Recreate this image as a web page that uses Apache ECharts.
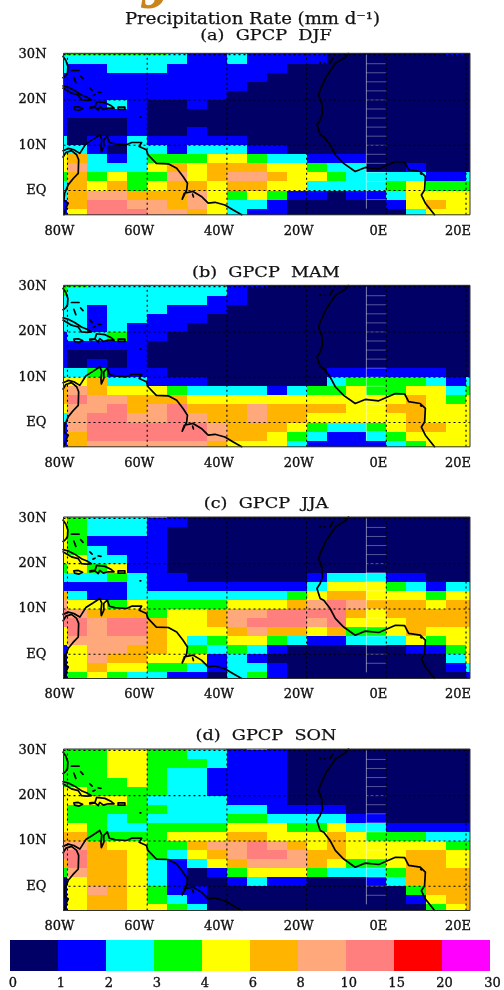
<!DOCTYPE html>
<html><head><meta charset="utf-8">
<style>html,body{margin:0;padding:0;background:#fff}#c{width:504px;height:990px}</style>
<script src="https://cdn.jsdelivr.net/npm/echarts@6/dist/echarts.min.js"></script>
</head><body><div id="c"></div>
<script>
// Each digit is a colour band index (0 = 0-1 mm/d ... 9 = 20-30 mm/d).
// Rows run north to south, columns west to east; short rows continue with band 0.
const gpcpDJF = ["3333332112111100000010","2222222112111100000000","211222111111","11111111111","1111111111","111111111","11121001","11111","10001","10001001","2011211111","221022122211","4521233344322111","4622245455544322001","3534336456654432222112","2545345545544222234333","2566555643431101124444","1577665642210000014544","1477766542110000002444"];
const gpcpMAM = ["33222222211","3222222221","2222222211","221222111","22122111","2212111","122311","11111","10001","10101","22311100000000111111","4452211100000023333212","5654443222212334334423","5766555444444444445434","4667567555655554455444","2677667655655444445444","1677777765554322345544","1577777765543211234444","1566666654442111123444"];
const gpcpJJA = ["43322211","4322211","432221","431111","432111","442211","343411","2223211000000122211","1111211111111244432122","5211222222223455444344","6443433334445676555455","7655534456677775455555","7767754456777674445555","4767754445655453345444","4666654234432112224344","1466554323210000001134","0465544412100000000024","0454433212210000000012","0343221102310000000001"];
const gpcpSON = ["2334433221211","333443322111","333443332111","333443221111","333343221111","443333221111","444432222111","433333222221111","43323222233222211","4432233334443342211111","5533334445544454333222","6654433566765454444433","7755432456776554445544","5755421245666543345544","3655421013444322235555","0455421001211000125555","0465431100000000003555","0455432100000000001455","0455443200000000000345"];

const lonEdges = [-81,-80,-75,-70,-65,-60,-55,-50,-45,-40,-35,-30,-25,-20,-15,-10,-5,0,5,10,15,20,21];
const latEdges = [30.3,30,28,26,24,22,20,18,16,14,12,10,8,6,4,2,0,-2,-4,-5.36];
const lonTicks = [-80,-60,-40,-20,0,20];
const latTicks = [30,20,10,0];
const bandLabels = ['0','1','2','3','4','6','8','10','15','20','30'];
const bandColors = ['#000066','#0000ff','#00ffff','#00ff00','#ffff00','#ffb400','#ffa87c','#ff7f7f','#ff0000','#ff00ff'];

const panelNames = ['(a)  GPCP  DJF','(b)  GPCP  MAM','(c)  GPCP  JJA','(d)  GPCP  SON'];
const panelTops = [53.3,285.3,517,749];

const coastlines = [
 [[-81.1,29.6],[-80.4,28.7],[-79.9,27.4],[-80,26],[-80.5,25.3],[-81.1,24.9]],
 [[-81.1,23.1],[-79.8,22.8],[-78.2,22.1],[-76.5,21.1],[-75.1,20.6],[-74,20],[-75.1,19.9],[-76.5,20],[-77.3,21.1],[-79,21.5],[-80.3,22.2],[-81.1,22.6]],
 [[-79,26.5],[-77.1,26.5]],[[-78.4,25],[-77.9,23.8]],[[-76.7,25.3],[-76.1,24.7]],[[-74.4,22.6],[-73.8,22.1]],[[-72.3,21.7],[-71.6,21.6]],[[-73.6,21],[-73.1,21.2]],
 [[-78.4,18.4],[-77.3,18.5],[-76.2,18.1],[-77.1,17.7],[-78.2,17.9],[-78.4,18.4]],
 [[-74.4,18.4],[-73.1,18.5],[-72.7,19.6],[-70.6,19.4],[-69,18.7],[-68.3,18.2],[-69.8,18.2],[-71,17.9],[-71.9,18.5],[-72.3,17.8],[-73.1,18.4],[-74.4,18.2],[-74.4,18.4]],
 [[-67.3,18.4],[-65.6,18.4],[-65.6,17.9],[-67.3,17.9],[-67.3,18.4]],
 [[-61.8,16.2],[-61.6,16.2]],
 [[-81.1,8.8],[-79.8,9.3],[-78.4,9],[-76.9,8.2],[-75.4,10.3],[-73.6,11.3],[-71.9,12.3],[-71.4,11.3],[-71.6,9.7],[-71.5,8.5],[-70.9,9.7],[-70.9,11.2],[-70,12],[-69.5,10.6],[-68.1,10.3],[-65.2,10.1],[-63.9,10.6],[-61.4,10.6],[-62,9.7],[-60.2,9],[-59.8,7.9],[-57.7,6],[-54.7,5.9],[-52.6,4.9],[-51,3.1],[-49.9,1.6],[-50.1,0.1],[-51.2,-1.9],[-50.7,-0.6],[-48.5,-0.2],[-46.4,-1.3],[-44.7,-2.8],[-43,-2.6],[-40.5,-3.2],[-38.4,-4.3],[-36.3,-5.36]],
 [[-81.1,7.4],[-80.4,8.4],[-79,8.8],[-77.7,7.9],[-77.2,6.8],[-77.3,3.8],[-78.6,2.6],[-79.8,1.3],[-80.7,-0.6],[-80.9,-2.1],[-79.8,-2.8],[-80.4,-3.9],[-80.9,-5.36]],
 [[-48.6,-0.8],[-48.4,-1.4]],
 [[-9.5,30.3],[-10.3,29.4],[-12.8,28.1],[-13.6,27],[-15.1,25.1],[-16.6,22.2],[-17,21.1],[-16.2,19.3],[-16,17.1],[-16.6,15.6],[-17.4,14.5],[-16.6,12.3],[-15.7,11.9],[-14.1,10.1],[-12.8,7.9],[-10.7,6],[-7.8,4.2],[-5.3,5.1],[-1.9,4.8],[1,5.9],[2.3,6.4],[4.6,6.3],[5.6,4.6],[8.5,4.2],[9.8,3.1],[9.6,0.1],[8.8,-1],[9.8,-2.8],[12.1,-5.36]],
 [[-16.7,28.2],[-16.5,28.2]],[[-15.6,28.1],[-15.4,28.1]],[[-14.2,28.1],[-13.4,29.2]],[[8.6,3.8],[8.8,3.6]]
];
const artefactLon = -5;
const artefactLats = [28,26,24,22,20,18,16,14,12,10,8,6,4,2,0,-2];

const seriesRows = [gpcpDJF,gpcpMAM,gpcpJJA,gpcpSON];
const serif = '"DejaVu Serif"';
const ink = '#111';
const labelStyle = {fontFamily:serif,fontSize:13,color:ink,textBorderColor:ink,textBorderWidth:0.35};
const grids=[],xAxes=[],yAxes=[],series=[],texts=[];

function lineSeries(i,pts,style,z){
  return {type:'line',xAxisIndex:i,yAxisIndex:i,data:pts,symbol:'none',silent:true,animation:false,z:z,lineStyle:style};
}
function renderCell(params,api){
  const a=api.coord([api.value(0),api.value(3)]), b=api.coord([api.value(1),api.value(2)]);
  const x=Math.round(a[0]),y=Math.round(a[1]);
  return {type:'rect',shape:{x:x,y:y,width:Math.round(b[0])-x,height:Math.round(b[1])-y},style:{fill:bandColors[api.value(4)]}};
}
seriesRows.forEach((rows,i)=>{
  grids.push({left:63.5,top:panelTops[i],width:406.5,height:161.5});
  xAxes.push({type:'value',gridIndex:i,min:lonEdges[0],max:lonEdges[lonEdges.length-1],splitLine:{show:false},axisLine:{show:false},axisTick:{show:false},
    axisLabel:Object.assign({customValues:lonTicks,margin:10,padding:[0,16,0,0],formatter:v=>v<0?(-v)+'W':v+'E'},labelStyle)});
  yAxes.push({type:'value',gridIndex:i,min:latEdges[latEdges.length-1],max:latEdges[0],splitLine:{show:false},axisLine:{show:false},axisTick:{show:false},
    axisLabel:Object.assign({customValues:latTicks,margin:17,formatter:v=>v===0?'EQ':v+'N'},labelStyle)});
  const cells=[];
  rows.forEach((row,r)=>{
    const full=row.padEnd(22,'0');
    for(let c=0;c<22;c++) cells.push([lonEdges[c],lonEdges[c+1],latEdges[r+1],latEdges[r],+full[c]]);
  });
  series.push({type:'custom',xAxisIndex:i,yAxisIndex:i,data:cells,renderItem:renderCell,encode:{x:[0,1],y:[2,3]},silent:true,animation:false,z:1});
  const strip={color:'#fff',width:1,opacity:0.33};
  series.push(lineSeries(i,[[artefactLon,30],[artefactLon,-4]],{color:'#fff',width:1,opacity:0.5},2));
  artefactLats.forEach(l=>series.push(lineSeries(i,[[artefactLon,l],[0,l]],strip,2)));
  const dot={color:'#000',width:1.1,type:[2,3]};
  lonTicks.forEach(l=>series.push(lineSeries(i,[[l,latEdges[latEdges.length-1]],[l,latEdges[0]]],dot,3)));
  latTicks.forEach(l=>series.push(lineSeries(i,[[lonEdges[0],l],[lonEdges[lonEdges.length-1],l]],dot,3)));
  coastlines.forEach(pts=>series.push(lineSeries(i,pts,{color:'#000',width:1.7,cap:'round',join:'round'},4)));
  const L=lonEdges[0],R=lonEdges[lonEdges.length-1],B=latEdges[latEdges.length-1],T=latEdges[0];
  series.push(Object.assign(lineSeries(i,[[L,B],[R,B],[R,T],[L,T],[L,B]],{color:'#333',width:1},5),{clip:false}));
});

const barIdx=4;
grids.push({left:10,top:940,width:482,height:31});
xAxes.push({type:'value',gridIndex:barIdx,min:0,max:10,splitLine:{show:false},axisLine:{show:false},axisTick:{show:false},
  axisLabel:Object.assign({customValues:bandLabels.map((_,k)=>k),margin:6,padding:[0,0,0,6],formatter:v=>bandLabels[v]},labelStyle)});
yAxes.push({type:'value',gridIndex:barIdx,min:0,max:1,show:false});
series.push({type:'custom',xAxisIndex:barIdx,yAxisIndex:barIdx,data:bandColors.map((_,k)=>[k,k+1,0,1,k]),renderItem:renderCell,encode:{x:[0,1],y:[2,3]},silent:true,animation:false});

const mainTitle='Precipitation Rate (mm d\u207B\u00B9)';
const titleY=[36,273,504,736];
const titleStyle={fontFamily:serif,fill:ink,align:'center',verticalAlign:'middle',stroke:ink,lineWidth:0.25};
texts.push({type:'text',x:252.5,y:19.5,scaleX:1.13,style:Object.assign({text:mainTitle,fontSize:16},titleStyle)});
panelNames.forEach((n,i)=>texts.push({type:'text',x:266,y:titleY[i],scaleX:1.14,style:Object.assign({text:n,fontSize:15.5},titleStyle)}));
texts.push({type:'text',x:141,y:23,style:{text:'J',fontFamily:'"Liberation Serif"',fontStyle:'italic',fontWeight:'bold',fontSize:64,fill:'#c9841c',align:'left',verticalAlign:'bottom'}});

const chart=echarts.init(document.getElementById('c'),null,{renderer:'canvas'});
chart.setOption({animation:false,backgroundColor:'#fff',grid:grids,xAxis:xAxes,yAxis:yAxes,series:series,graphic:{elements:texts}});
</script></body></html>
